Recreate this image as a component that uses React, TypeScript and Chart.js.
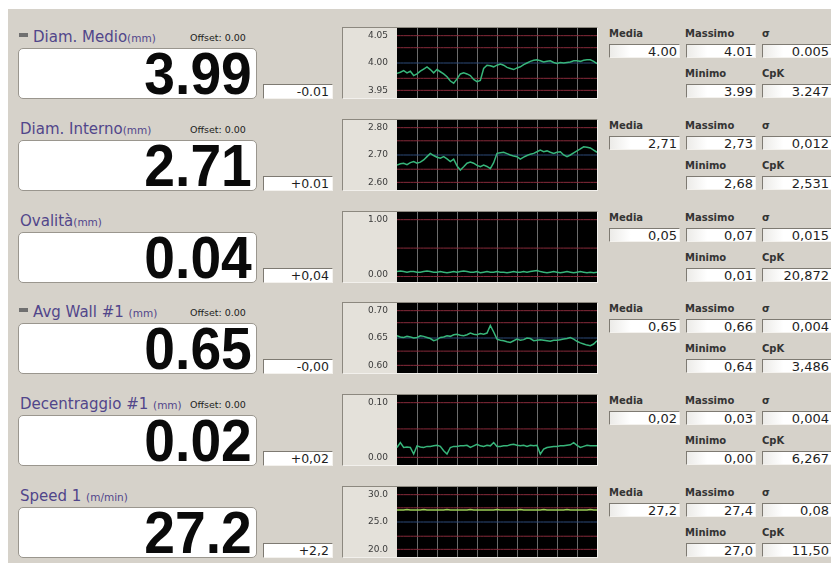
import React, { useEffect, useRef } from "react";
import { Chart, registerables } from "chart.js";

Chart.register(...registerables);

// ---------- DATA ----------
const rowNames = ["Diam. Medio", "Diam. Interno", "Ovalità", "Avg Wall #1 ", "Decentraggio #1 ", "Speed 1 "];
const rowUnits = ["(mm)", "(mm)", "(mm)", "(mm)", "(mm)", "(m/min)"];
const rowOffsets = ["Offset: 0.00", "Offset: 0.00", "", "Offset: 0.00", "Offset: 0.00", ""];
const rowIcons = [true, false, false, true, false, false];
const bigValues = ["3.99", "2.71", "0.04", "0.65", "0.02", "27.2"];
const deviations = ["-0.01", "+0.01", "+0,04", "-0,00", "+0,02", "+2,2"];
const mediaValues = ["4.00", "2,71", "0,05", "0,65", "0,02", "27,2"];
const massimoValues = ["4.01", "2,73", "0,07", "0,66", "0,03", "27,4"];
const sigmaValues = ["0.005", "0,012", "0,015", "0,004", "0,004", "0,08"];
const minimoValues = ["3.99", "2,68", "0,01", "0,64", "0,00", "27,0"];
const cpkValues = ["3.247", "2,531", "20,872", "3,486", "6,267", "11,50"];

const diamMedio = [
  3.981, 3.983, 3.986, 3.982, 3.985, 3.977, 3.980, 3.985, 3.989, 3.993,
  3.988, 3.982, 3.988, 3.984, 3.980, 3.975, 3.967, 3.963, 3.971, 3.980,
  3.982, 3.980, 3.977, 3.970, 3.966, 3.968, 3.990, 3.996, 3.995, 3.993,
  3.996, 3.998, 3.996, 3.992, 3.990, 3.988, 3.991, 3.993, 3.997, 4.000,
  4.003, 4.005, 4.006, 4.004, 4.002, 4.003, 4.004, 4.001, 3.999, 4.001,
  4.000, 4.001, 4.002, 4.004, 4.004, 4.003, 4.005, 4.006, 4.006, 4.003,
  3.999,
];
const diamInterno = [
  2.663, 2.668, 2.670, 2.665, 2.672, 2.676, 2.670, 2.674, 2.682, 2.694,
  2.706, 2.698, 2.692, 2.688, 2.694, 2.686, 2.676, 2.685, 2.660, 2.645,
  2.657, 2.670, 2.674, 2.670, 2.662, 2.657, 2.663, 2.658, 2.650, 2.672,
  2.706, 2.708, 2.710, 2.705, 2.700, 2.696, 2.694, 2.685, 2.692, 2.698,
  2.703, 2.706, 2.712, 2.718, 2.712, 2.715, 2.710, 2.706, 2.710, 2.712,
  2.700, 2.694, 2.700, 2.708, 2.715, 2.722, 2.730, 2.728, 2.726, 2.718,
  2.710,
];
const ovalita = [
  0.05, 0.06, 0.05, 0.04, 0.05, 0.05, 0.04, 0.04, 0.05, 0.06,
  0.05, 0.04, 0.04, 0.05, 0.04, 0.03, 0.04, 0.05, 0.04, 0.05,
  0.06, 0.05, 0.04, 0.04, 0.05, 0.03, 0.04, 0.05, 0.04, 0.04,
  0.05, 0.04, 0.04, 0.03, 0.04, 0.05, 0.04, 0.04, 0.05, 0.04,
  0.05, 0.06, 0.07, 0.05, 0.04, 0.03, 0.04, 0.05, 0.04, 0.03,
  0.04, 0.05, 0.04, 0.03, 0.04, 0.05, 0.04, 0.03, 0.04, 0.03,
  0.04,
];
const avgWall = [
  0.654, 0.652, 0.651, 0.653, 0.652, 0.650, 0.651, 0.654, 0.653, 0.651,
  0.649, 0.645, 0.647, 0.651, 0.652, 0.654, 0.653, 0.656, 0.657, 0.655,
  0.654, 0.656, 0.659, 0.657, 0.656, 0.658, 0.657, 0.659, 0.673, 0.661,
  0.648, 0.646, 0.645, 0.643, 0.642, 0.645, 0.648, 0.646, 0.647, 0.650,
  0.649, 0.645, 0.646, 0.647, 0.646, 0.645, 0.644, 0.646, 0.646, 0.647,
  0.648, 0.649, 0.651, 0.648, 0.644, 0.641, 0.639, 0.637, 0.636, 0.639,
  0.645,
];
const decentraggio = [
  0.018, 0.027, 0.018, 0.019, 0.018, 0.006, 0.021, 0.019, 0.018, 0.020,
  0.020, 0.021, 0.022, 0.020, 0.012, 0.006, 0.018, 0.020, 0.020, 0.021,
  0.021, 0.022, 0.018, 0.021, 0.024, 0.021, 0.020, 0.022, 0.021, 0.027,
  0.020, 0.020, 0.021, 0.021, 0.023, 0.024, 0.022, 0.021, 0.022, 0.020,
  0.022, 0.021, 0.022, 0.006, 0.015, 0.018, 0.019, 0.020, 0.020, 0.021,
  0.021, 0.022, 0.023, 0.027, 0.022, 0.018, 0.020, 0.022, 0.021, 0.021,
  0.021,
];
const speed = [
  27.2, 27.2, 27.2, 27.3, 27.2, 27.2, 27.2, 27.2, 27.3, 27.2,
  27.2, 27.2, 27.2, 27.2, 27.2, 27.3, 27.2, 27.2, 27.2, 27.2,
  27.2, 27.2, 27.3, 27.2, 27.2, 27.2, 27.2, 27.2, 27.2, 27.2,
  27.3, 27.2, 27.2, 27.2, 27.2, 27.2, 27.2, 27.3, 27.2, 27.2,
  27.2, 27.2, 27.2, 27.2, 27.3, 27.2, 27.2, 27.2, 27.2, 27.2,
  27.2, 27.3, 27.2, 27.2, 27.2, 27.2, 27.2, 27.2, 27.3, 27.2,
  27.2,
];
const seriesList = [diamMedio, diamInterno, ovalita, avgWall, decentraggio, speed];

const tickValues = [
  [3.95, 4.0, 4.05],
  [2.6, 2.7, 2.8],
  [0, 1],
  [0.6, 0.65, 0.7],
  [0, 0.1],
  [20, 25, 30],
];
const tickDecimals = [2, 2, 2, 2, 2, 1];
const redLimits = [
  [4.05, 4.028, 3.972, 3.95],
  [2.8, 2.752, 2.648, 2.6],
  [1.0, 0.48, -0.04],
  [0.7, 0.678, 0.626, 0.6],
  [0.1, 0.052, 0.0],
  [30, 27.6, 22.4, 20],
];
const nominalValues = [4.0, 2.7, null, 0.65, null, 25.0];
const lineColors = ["#37b57a", "#37b57a", "#37b57a", "#37b57a", "#37b57a", "#9ccf55"];

// ---------- STYLE ----------
const BG = "#d6d2ca";
const ROW_PITCH = 91.8;
const FIRST_TOP = 27;
const sans = "'DejaVu Sans', Verdana, sans-serif";
const arial = "'Liberation Sans', Arial, sans-serif";

const bgPlugin = {
  id: "panelBg",
  beforeDraw(chart: any) {
    const { ctx, chartArea, width, height } = chart;
    ctx.save();
    ctx.fillStyle = "#e4e1da";
    ctx.fillRect(0, 0, width, height);
    ctx.fillStyle = "#000";
    ctx.fillRect(chartArea.left, chartArea.top, chartArea.right - chartArea.left, chartArea.bottom - chartArea.top);
    ctx.restore();
  },
};

function MiniChart({ idx }: { idx: number }) {
  const ref = useRef<HTMLCanvasElement | null>(null);
  useEffect(() => {
    if (!ref.current) return;
    const data = seriesList[idx];
    const labels = data.map((_, i) => String(i));
    const tv = tickValues[idx];
    const lo = Math.min(...tv);
    const hi = Math.max(...tv);
    const m = (hi - lo) * 0.14;
    const datasets: any[] = [
      {
        data,
        borderColor: lineColors[idx],
        borderWidth: 1.5,
        pointRadius: 0,
        tension: 0,
      },
    ];
    const nom = nominalValues[idx];
    if (nom !== null) {
      datasets.push({
        data: labels.map(() => nom),
        borderColor: "rgb(45,75,120)",
        borderWidth: 1,
        pointRadius: 0,
      });
    }
    redLimits[idx].forEach((v) => {
      datasets.push({
        data: labels.map(() => v),
        borderColor: "rgb(135,42,58)",
        borderWidth: 1,
        pointRadius: 0,
      });
    });
    const chart = new Chart(ref.current, {
      type: "line",
      data: { labels, datasets },
      plugins: [bgPlugin],
      options: {
        animation: false,
        responsive: false,
        maintainAspectRatio: false,
        events: [],
        layout: { padding: 0 },
        plugins: { legend: { display: false }, tooltip: { enabled: false } },
        scales: {
          x: {
            type: "category",
            offset: false,
            border: { display: false },
            ticks: { display: false, autoSkip: false },
            grid: {
              drawTicks: false,
              tickLength: 0,
              lineWidth: 1,
              color: (c: any) =>
                c.index % 6 === 0 && c.index !== 0 && c.index !== labels.length - 1
                  ? "rgba(195,195,195,0.55)"
                  : "rgba(0,0,0,0)",
            },
          },
          y: {
            min: lo - m,
            max: hi + m,
            border: { display: false },
            grid: { display: false },
            afterBuildTicks: (s: any) => {
              s.ticks = tv.map((v) => ({ value: v }));
            },
            afterFit: (s: any) => {
              s.width = 54;
              s.paddingTop = 0;
              s.paddingBottom = 0;
            },
            ticks: {
              padding: 1,
              color: "#3a3a3a",
              font: { family: "'DejaVu Sans', sans-serif", size: 9 },
              callback: (v: any) => Number(v).toFixed(tickDecimals[idx]),
            },
          },
        },
      },
    });
    return () => chart.destroy();
  }, [idx]);
  return <canvas ref={ref} width={254} height={70} style={{ width: 254, height: 70, display: "block" }} />;
}

const insetBorder = {
  borderStyle: "solid",
  borderWidth: 1,
  borderColor: "#7e7a72 #f4f2ee #f4f2ee #7e7a72",
  boxSizing: "border-box" as const,
  background: "linear-gradient(to right, #ecebe8, #ffffff 30%)",
};

function StatBox({ left, top, width, text }: { left: number; top: number; width: number; text: string }) {
  return (
    <div
      style={{
        position: "absolute",
        left,
        top,
        width,
        height: 14,
        ...insetBorder,
        fontFamily: sans,
        fontSize: 13,
        lineHeight: "13px",
        color: "#1e1e1e",
        textAlign: "right",
        paddingRight: 2,
        whiteSpace: "nowrap",
      }}
    >
      {text}
    </div>
  );
}

function StatLabel({ left, top, text }: { left: number; top: number; text: string }) {
  return (
    <div
      style={{
        position: "absolute",
        left,
        top,
        fontFamily: sans,
        fontSize: 10,
        fontWeight: "bold",
        lineHeight: "12px",
        color: "#343434",
        whiteSpace: "nowrap",
      }}
    >
      {text}
    </div>
  );
}

function Row({ i }: { i: number }) {
  const T = Math.round(FIRST_TOP + ROW_PITCH * i);
  return (
    <>
      {rowIcons[i] && (
        <div style={{ position: "absolute", left: 19, top: T + 6, width: 9, height: 4, background: "#707070" }} />
      )}
      <div
        style={{
          position: "absolute",
          left: rowIcons[i] ? 33 : 20,
          top: T + 2,
          lineHeight: "15px",
          whiteSpace: "nowrap",
          fontFamily: sans,
          color: "#51468a",
        }}
      >
        <span style={{ fontSize: 15 }}>{rowNames[i]}</span>
        <span style={{ fontSize: 10.5 }}>{rowUnits[i]}</span>
      </div>
      {rowOffsets[i] && (
        <div
          style={{
            position: "absolute",
            left: 190,
            top: T + 3,
            lineHeight: "15px",
            fontFamily: sans,
            fontSize: 9.5,
            color: "#222",
            whiteSpace: "nowrap",
          }}
        >
          {rowOffsets[i]}
        </div>
      )}
      <div
        style={{
          position: "absolute",
          left: 18,
          top: T + 21,
          width: 239,
          height: 51,
          boxSizing: "border-box",
          background: "#fff",
          border: "1px solid #9a968e",
          borderRadius: 5,
          overflow: "hidden",
        }}
      >
        <div
          style={{
            position: "absolute",
            right: 4,
            top: -5,
            fontFamily: arial,
            fontWeight: "bold",
            fontSize: 60,
            lineHeight: "60px",
            color: "#0a0a0a",
            transform: "scaleX(0.92)",
            transformOrigin: "right center",
            whiteSpace: "nowrap",
          }}
        >
          {bigValues[i]}
        </div>
      </div>
      <div
        style={{
          position: "absolute",
          left: 263,
          top: T + 57,
          width: 70,
          height: 15,
          ...insetBorder,
          background: "#fff",
          fontFamily: sans,
          fontSize: 12.5,
          lineHeight: "14px",
          color: "#1e1e1e",
          textAlign: "right",
          paddingRight: 3,
        }}
      >
        {deviations[i]}
      </div>
      <div
        style={{
          position: "absolute",
          left: 342,
          top: T,
          width: 254,
          height: 70,
          borderStyle: "solid",
          borderWidth: 1,
          borderColor: "#8c887f #f2f0ec #f2f0ec #8c887f",
        }}
      >
        <MiniChart idx={i} />
      </div>
      <StatLabel left={609} top={T + 1} text="Media" />
      <StatLabel left={685} top={T + 1} text="Massimo" />
      <StatLabel left={762} top={T + 1} text="σ" />
      <StatBox left={609} top={T + 17} width={71} text={mediaValues[i]} />
      <StatBox left={686} top={T + 17} width={70} text={massimoValues[i]} />
      <StatBox left={762} top={T + 17} width={70} text={sigmaValues[i]} />
      <StatLabel left={685} top={T + 41} text="Minimo" />
      <StatLabel left={762} top={T + 41} text="CpK" />
      <StatBox left={686} top={T + 57} width={70} text={minimoValues[i]} />
      <StatBox left={762} top={T + 57} width={70} text={cpkValues[i]} />
    </>
  );
}

export default function App() {
  return (
    <div
      style={{
        position: "fixed",
        left: 0,
        top: 0,
        width: 831,
        height: 563,
        overflow: "hidden",
        background: "#fff",
      }}
    >
      <div style={{ position: "absolute", left: 8, top: 9, right: 0, bottom: 0, background: BG }} />
      {rowNames.map((_, i) => (
        <Row key={i} i={i} />
      ))}
    </div>
  );
}
